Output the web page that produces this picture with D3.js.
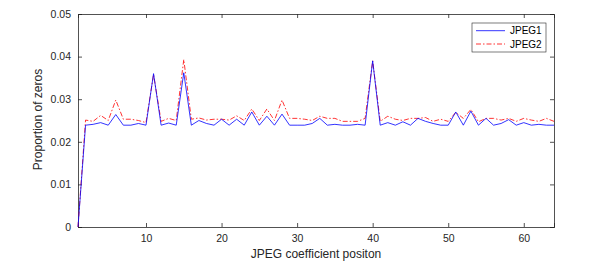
<!DOCTYPE html>
<html>
<head>
<meta charset="utf-8">
<script src="https://cdn.jsdelivr.net/npm/d3@7"></script>
<style>
  body { margin: 0; background: #fff; }
  svg { font-family: "Liberation Sans", Arial, sans-serif; }
</style>
</head>
<body>
<div id="chart"></div>
<script>
// coefficient positions 1..64
const positions = d3.range(1, 65);

const jpeg1 = [
  0.0000, 0.0239, 0.0241, 0.0245, 0.0239, 0.0264, 0.0239, 0.0239, 0.0243, 0.0239,
  0.0360, 0.0239, 0.0244, 0.0239, 0.0362, 0.0239, 0.0250, 0.0243, 0.0239, 0.0253,
  0.0239, 0.0253, 0.0239, 0.0270, 0.0239, 0.0260, 0.0239, 0.0265, 0.0239, 0.0239,
  0.0239, 0.0243, 0.0255, 0.0239, 0.0241, 0.0239, 0.0239, 0.0241, 0.0239, 0.0390,
  0.0239, 0.0245, 0.0239, 0.0247, 0.0239, 0.0255, 0.0248, 0.0243, 0.0239, 0.0239,
  0.0270, 0.0239, 0.0272, 0.0239, 0.0255, 0.0239, 0.0243, 0.0252, 0.0239, 0.0245,
  0.0239, 0.0241, 0.0239, 0.0239
];

const jpeg2 = [
  0.0000, 0.0251, 0.0248, 0.0262, 0.0250, 0.0298, 0.0253, 0.0253, 0.0250, 0.0245,
  0.0358, 0.0248, 0.0255, 0.0250, 0.0393, 0.0253, 0.0256, 0.0251, 0.0253, 0.0253,
  0.0251, 0.0261, 0.0250, 0.0277, 0.0250, 0.0277, 0.0250, 0.0298, 0.0255, 0.0255,
  0.0253, 0.0250, 0.0260, 0.0255, 0.0255, 0.0248, 0.0248, 0.0248, 0.0255, 0.0390,
  0.0248, 0.0260, 0.0253, 0.0250, 0.0255, 0.0255, 0.0257, 0.0248, 0.0253, 0.0248,
  0.0269, 0.0255, 0.0276, 0.0247, 0.0255, 0.0255, 0.0251, 0.0255, 0.0248, 0.0255,
  0.0251, 0.0248, 0.0255, 0.0248
];

const xTicks = [10, 20, 30, 40, 50, 60];
const yTicks = [0, 0.01, 0.02, 0.03, 0.04, 0.05];

const width = 599, height = 263;
const margin = {top: 14, right: 45, bottom: 36, left: 78};
const innerW = width - margin.left - margin.right;
const innerH = height - margin.top - margin.bottom;

const svg = d3.select("#chart")
  .append("svg")
  .attr("width", width)
  .attr("height", height);

const g = svg.append("g")
  .attr("transform", `translate(${margin.left},${margin.top})`);

const x = d3.scaleLinear().domain([1, 64]).range([0, innerW]);
const y = d3.scaleLinear().domain([0, 0.05]).range([innerH, 0]);

const axisColor = "#262626";

// axes (MATLAB style: ticks inward, box on)
const xAxis = g.append("g")
  .attr("transform", `translate(0,${innerH})`)
  .call(d3.axisBottom(x).tickValues(xTicks).tickSize(-4).tickPadding(8).tickFormat(d3.format("d")));
const yAxis = g.append("g")
  .call(d3.axisLeft(y).tickValues(yTicks).tickSize(-4).tickPadding(7)
    .tickFormat(d => d === 0 ? "0" : d3.format(".2f")(d)));
const xTop = g.append("g")
  .call(d3.axisTop(x).tickValues(xTicks).tickSize(-4).tickFormat(""));
const yRight = g.append("g")
  .attr("transform", `translate(${innerW},0)`)
  .call(d3.axisRight(y).tickValues(yTicks).tickSize(-4).tickFormat(""));

[xAxis, yAxis, xTop, yRight].forEach(a => {
  a.select(".domain").attr("stroke", axisColor).attr("stroke-width", 0.8);
  a.selectAll(".tick line").attr("stroke", axisColor).attr("stroke-width", 0.8);
  a.selectAll(".tick text").attr("fill", axisColor).style("font-size", "10.5px");
});

// series
const line = d3.line()
  .x((d, i) => x(positions[i]))
  .y(d => y(d));

g.append("path")
  .datum(jpeg2)
  .attr("fill", "none")
  .attr("stroke", "#ff0000")
  .attr("stroke-width", 0.8)
  .attr("stroke-dasharray", "5,2,1.5,2")
  .attr("d", line);

g.append("path")
  .datum(jpeg1)
  .attr("fill", "none")
  .attr("stroke", "#0000ff")
  .attr("stroke-width", 0.8)
  .attr("d", line);

// labels
g.append("text")
  .attr("x", innerW / 2)
  .attr("y", innerH + 31)
  .attr("text-anchor", "middle")
  .attr("fill", axisColor)
  .style("font-size", "12px")
  .text("JPEG coefficient positon");

g.append("text")
  .attr("transform", `translate(-36,${innerH / 2 - 1}) rotate(-90)`)
  .attr("text-anchor", "middle")
  .attr("fill", axisColor)
  .style("font-size", "12px")
  .text("Proportion of zeros");

// legend
const legend = g.append("g")
  .attr("transform", `translate(${innerW - 82},9)`);

legend.append("rect")
  .attr("width", 74)
  .attr("height", 29)
  .attr("fill", "#fff")
  .attr("stroke", axisColor)
  .attr("stroke-width", 0.6);

const items = [
  {name: "JPEG1", color: "#0000ff", dash: null},
  {name: "JPEG2", color: "#ff0000", dash: "5,2,1.5,2"}
];

items.forEach((d, i) => {
  const yy = 7.7 + i * 13.3;
  legend.append("line")
    .attr("x1", 4).attr("x2", 33)
    .attr("y1", yy).attr("y2", yy)
    .attr("stroke", d.color)
    .attr("stroke-width", 0.8)
    .attr("stroke-dasharray", d.dash);
  legend.append("text")
    .attr("x", 38)
    .attr("y", yy)
    .attr("dy", "0.35em")
    .attr("fill", "#000")
    .style("font-size", "10px")
    .text(d.name);
});
</script>
</body>
</html>
